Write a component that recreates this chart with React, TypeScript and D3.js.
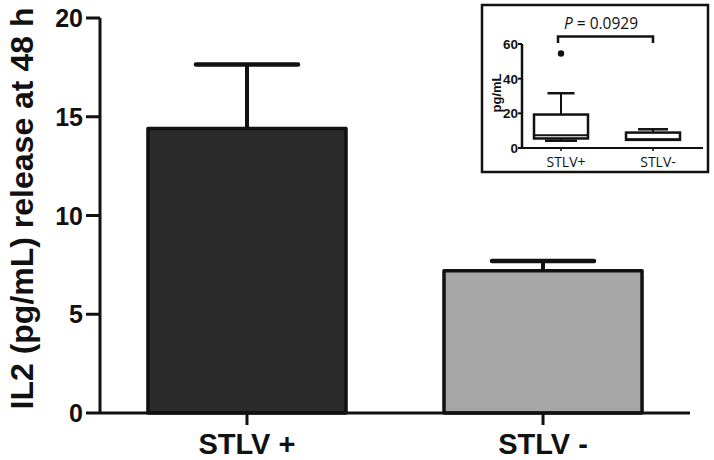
import React from "react";
import * as d3 from "d3";

const categories = ["STLV +", "STLV -"];
const means = [14.4, 7.2];
const errors = [3.25, 0.5];
const barFills = ["#2b2b2b", "#a6a6a6"];
const yTicks = [0, 5, 10, 15, 20];

const insetCategories = ["STLV+", "STLV-"];
const insetWhiskerLow = [4.2, 4.7];
const insetQ1 = [5.5, 4.7];
const insetMedian = [7.4, 5.0];
const insetQ3 = [19.3, 8.9];
const insetWhiskerHigh = [31.6, 10.8];
const insetOutliers = [[54.5], []];
const insetTicks = [0, 20, 40, 60];
const pLabel = "0.0929";

const W = 714;
const H = 460;

export default function App() {
  const x = d3.scaleBand<string>().domain(categories).range([100, 690]).paddingInner(0.331).paddingOuter(0.162);
  const y = d3.scaleLinear().domain([0, 20]).range([413, 18]);
  const bw = x.bandwidth();

  const ix = d3.scalePoint<string>().domain(insetCategories).range([561, 653]);
  const iy = d3.scaleLinear().domain([0, 60]).range([148, 44]);
  const boxW = 54;
  const bold = "'Liberation Sans', Arial, sans-serif";
  const inset = "'Open Sans', 'Noto Sans', sans-serif";
  const capWs = [27, 30];
  const lowCapWs = [32, 0];

  return (
    <svg width={W} height={H} style={{ position: "absolute", left: 0, top: 0, background: "#fff" }}>
      {categories.map((c, i) => {
        const x0 = x(c)!;
        const cx = x0 + bw / 2;
        return (
          <g key={c}>
            <line x1={cx} x2={cx} y1={y(means[i])} y2={y(means[i] + errors[i])} stroke="#111" strokeWidth={4} />
            <line x1={cx - 51} x2={cx + 51} y1={y(means[i] + errors[i])} y2={y(means[i] + errors[i])} stroke="#111" strokeWidth={4.5} strokeLinecap="round" />
            <rect x={x0} y={y(means[i])} width={bw} height={y(0) - y(means[i])} fill={barFills[i]} stroke="#111" strokeWidth={3.5} strokeLinejoin="round" />
          </g>
        );
      })}
      <line x1={100} x2={100} y1={y(20)} y2={y(0)} stroke="#111" strokeWidth={3} />
      {yTicks.map((t) => (
        <g key={t}>
          <line x1={86} x2={100} y1={y(t)} y2={y(t)} stroke="#111" strokeWidth={3} />
          <text x={83} y={y(t)} dy="0.36em" textAnchor="end" fontFamily={bold} fontWeight="bold" fontSize={25} fill="#111">{t}</text>
        </g>
      ))}
      <text transform={`translate(33,${(y(0) + y(20)) / 2 - 7}) rotate(-90)`} textAnchor="middle" fontFamily={bold} fontWeight="bold" fontSize={32} fill="#111">IL2 (pg/mL) release at 48 h</text>
      <line x1={100} x2={690} y1={y(0)} y2={y(0)} stroke="#111" strokeWidth={3} />
      {categories.map((c) => {
        const cx = x(c)! + bw / 2;
        return (
          <g key={c}>
            <line x1={cx} x2={cx} y1={y(0)} y2={y(0) + 12} stroke="#111" strokeWidth={3} />
            <text x={cx} y={454} textAnchor="middle" fontFamily={bold} fontWeight="bold" fontSize={29} fill="#111">{c}</text>
          </g>
        );
      })}

      <rect x={482} y={5} width={226} height={167} fill="#fff" stroke="#111" strokeWidth={2.5} />
      <line x1={522} x2={522} y1={iy(60)} y2={iy(0)} stroke="#111" strokeWidth={2.5} />
      {insetTicks.map((t) => (
        <g key={t}>
          <line x1={518} x2={522} y1={iy(t)} y2={iy(t)} stroke="#111" strokeWidth={2} />
          <text x={518} y={iy(t)} dy="0.36em" textAnchor="end" fontFamily={bold} fontWeight="bold" fontSize={13.5} fill="#111">{t}</text>
        </g>
      ))}
      <text transform={`translate(501,${(iy(0) + iy(60)) / 2 - 3}) rotate(-90)`} textAnchor="middle" fontFamily={bold} fontWeight="bold" fontSize={13} fill="#111">pg/mL</text>
      <line x1={522} x2={703} y1={iy(0)} y2={iy(0)} stroke="#111" strokeWidth={2} />
      {insetCategories.map((c, i) => {
        const cx = ix(c)!;
        return (
          <g key={c}>
            <line x1={cx} x2={cx} y1={iy(0)} y2={iy(0) + 3} stroke="#111" strokeWidth={1.5} />
            <text x={cx + 5} y={167} textAnchor="middle" fontFamily={inset} fontSize={14} fill="#111">{c}</text>
            <line x1={cx} x2={cx} y1={iy(insetQ3[i])} y2={iy(insetWhiskerHigh[i])} stroke="#111" strokeWidth={2} />
            <line x1={cx - capWs[i] / 2} x2={cx + capWs[i] / 2} y1={iy(insetWhiskerHigh[i])} y2={iy(insetWhiskerHigh[i])} stroke="#111" strokeWidth={2.5} />
            <line x1={cx} x2={cx} y1={iy(insetQ1[i])} y2={iy(insetWhiskerLow[i])} stroke="#111" strokeWidth={2} />
            {lowCapWs[i] > 0 && (
              <line x1={cx - lowCapWs[i] / 2} x2={cx + lowCapWs[i] / 2} y1={iy(insetWhiskerLow[i])} y2={iy(insetWhiskerLow[i])} stroke="#111" strokeWidth={2.5} />
            )}
            <rect x={cx - boxW / 2} y={iy(insetQ3[i])} width={boxW} height={iy(insetQ1[i]) - iy(insetQ3[i])} fill="#fff" stroke="#111" strokeWidth={2.5} />
            <line x1={cx - boxW / 2} x2={cx + boxW / 2} y1={iy(insetMedian[i])} y2={iy(insetMedian[i])} stroke="#111" strokeWidth={2} />
            {insetOutliers[i].map((o, k) => (
              <circle key={k} cx={cx} cy={iy(o)} r={3.2} fill="#111" />
            ))}
          </g>
        );
      })}
      <path d={`M558,43 V36.5 H653 V43`} fill="none" stroke="#111" strokeWidth={2.5} />
      <text x={601} y={29} textAnchor="middle" fontFamily={inset} fontSize={15.5} fill="#111">
        <tspan fontStyle="italic">P</tspan> = {pLabel}
      </text>
    </svg>
  );
}
